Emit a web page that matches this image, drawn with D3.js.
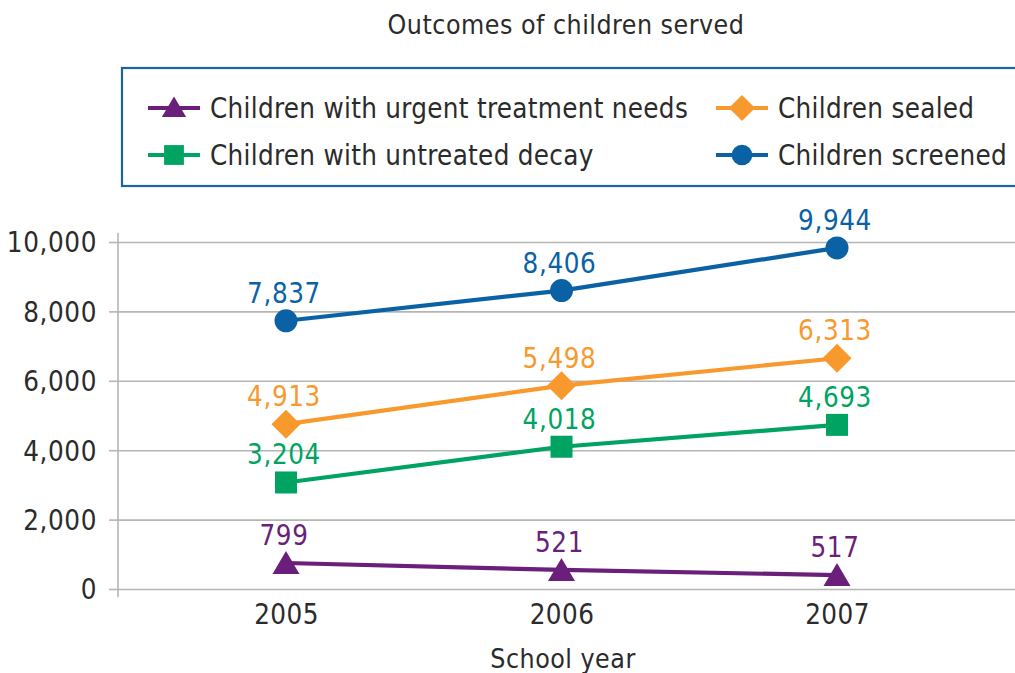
<!DOCTYPE html>
<html>
<head>
<meta charset="utf-8">
<script src="https://cdn.jsdelivr.net/npm/d3@7"></script>
<style>
  html, body { margin: 0; padding: 0; background: #fff; }
  svg { display: block; }
  text { font-family: "Liberation Sans Narrow", "DejaVu Sans Condensed", "Open Sans", sans-serif; fill: #2b2b2b; }
</style>
</head>
<body>
<svg id="chart" width="1015" height="673"></svg>
<script>
// ---- data ----
const years = [2005, 2006, 2007];
const yTicks = [0, 2000, 4000, 6000, 8000, 10000];
const seriesNames = ["Children with urgent treatment needs", "Children sealed", "Children with untreated decay", "Children screened"];
// plotted positions
const urgent   = [750, 550, 400];
const decay    = [3070, 4100, 4730];
const sealed   = [4750, 5860, 6650];
const screened = [7730, 8600, 9830];
// printed value labels
const urgentLabels   = ["799", "521", "517"];
const decayLabels    = ["3,204", "4,018", "4,693"];
const sealedLabels   = ["4,913", "5,498", "6,313"];
const screenedLabels = ["7,837", "8,406", "9,944"];

const title = "Outcomes of children served";
const xTitle = "School year";

// ---- config ----
const W = 1015, H = 673;
const colors = { urgent: "#6a1f7a", decay: "#00a361", sealed: "#f7992d", screened: "#0a62a5" };
const textColor = "#2b2b2b";
const svg = d3.select("#chart");

const x = d3.scalePoint().domain(years).range([286, 837]);
const y = d3.scaleLinear().domain([0, 10000]).range([589, 242]);
const axisX = 118;

// title
svg.append("text").attr("x", 566).attr("y", 34).attr("text-anchor", "middle")
  .style("font-size", "26.5px").style("letter-spacing", "0.5px").text(title);

// legend box
svg.append("rect").attr("x", 122).attr("y", 68).attr("width", 905).attr("height", 118)
  .attr("fill", "none").attr("stroke", "#1a64a0").attr("stroke-width", 2.2);

// gridlines
svg.append("g").attr("transform", `translate(${axisX},0)`)
  .call(d3.axisRight(y).tickValues(yTicks).tickSize(W - axisX).tickFormat(""))
  .call(g => g.select(".domain").remove())
  .call(g => g.selectAll("line").attr("stroke", "#b5b5b5").attr("stroke-width", 1.6));

// y axis
svg.append("g").attr("transform", `translate(${axisX},0)`)
  .call(d3.axisLeft(y).tickValues(yTicks).tickSize(9).tickPadding(12).tickFormat(d3.format(",")))
  .call(g => g.select(".domain").remove())
  .call(g => g.selectAll("line").attr("stroke", "#b5b5b5").attr("stroke-width", 1.6))
  .call(g => g.selectAll("text").style("font-size", "27.5px").style("letter-spacing", "0.6px").attr("fill", textColor).attr("dy", "0.36em"));
svg.append("line").attr("x1", axisX).attr("x2", axisX).attr("y1", 233).attr("y2", 597)
  .attr("stroke", "#b5b5b5").attr("stroke-width", 1.6);

// x axis labels
svg.append("g").attr("transform", `translate(0,589)`)
  .call(d3.axisBottom(x).tickSize(0).tickPadding(35))
  .call(g => g.select(".domain").remove())
  .call(g => g.selectAll("text").style("font-size", "27.5px").style("letter-spacing", "0.4px").attr("fill", textColor).attr("dy", 0));
svg.append("text").attr("x", 563).attr("y", 668).attr("text-anchor", "middle")
  .style("font-size", "26.5px").style("letter-spacing", "0.5px").text(xTitle);

// symbols
function drawSymbol(g, type, cx, cy, color, s) {
  s = s || 1;
  if (type === "circle") g.append("circle").attr("cx", cx).attr("cy", cy).attr("r", 11.5 * s).attr("fill", color);
  else if (type === "square") g.append("rect").attr("x", cx - 11 * s).attr("y", cy - 11 * s).attr("width", 22 * s).attr("height", 22 * s).attr("fill", color);
  else if (type === "diamond") g.append("path").attr("d", `M${cx},${cy - 14.5 * s}L${cx + 14.5 * s},${cy}L${cx},${cy + 14.5 * s}L${cx - 14.5 * s},${cy}Z`).attr("fill", color);
  else if (type === "triangle") g.append("path").attr("d", `M${cx},${cy - 14 * s}L${cx + 13.5 * s},${cy + 9 * s}L${cx - 13.5 * s},${cy + 9 * s}Z`).attr("fill", color);
}

const series = [
  { name: seriesNames[3], vals: screened, labels: screenedLabels, color: colors.screened, sym: "circle" },
  { name: seriesNames[1], vals: sealed, labels: sealedLabels, color: colors.sealed, sym: "diamond" },
  { name: seriesNames[2], vals: decay, labels: decayLabels, color: colors.decay, sym: "square" },
  { name: seriesNames[0], vals: urgent, labels: urgentLabels, color: colors.urgent, sym: "triangle" }
];

const line = d3.line().x((d, i) => x(years[i])).y(d => y(d));
series.forEach(s => {
  const g = svg.append("g");
  g.append("path").attr("d", line(s.vals)).attr("fill", "none").attr("stroke", s.color).attr("stroke-width", 4.2);
  s.vals.forEach((v, i) => {
    const cx = x(years[i]), cy = y(v);
    drawSymbol(g, s.sym, cx, s.sym === "triangle" ? cy + 2 : cy, s.color);
    g.append("text").attr("x", cx - 2).attr("y", cy - 18).attr("text-anchor", "middle")
      .style("font-size", "27.5px").style("letter-spacing", "0.6px").style("fill", s.color).text(s.labels[i]);
  });
});

// legend
const legendItems = [
  { name: seriesNames[0], color: colors.urgent, sym: "triangle", lx: 148, ty: 108 },
  { name: seriesNames[1], color: colors.sealed, sym: "diamond", lx: 716, ty: 108 },
  { name: seriesNames[2], color: colors.decay, sym: "square", lx: 148, ty: 155 },
  { name: seriesNames[3], color: colors.screened, sym: "circle", lx: 716, ty: 155 }
];
legendItems.forEach(it => {
  const g = svg.append("g");
  g.append("line").attr("x1", it.lx).attr("x2", it.lx + 52).attr("y1", it.ty).attr("y2", it.ty)
    .attr("stroke", it.color).attr("stroke-width", 4.2);
  drawSymbol(g, it.sym, it.lx + 26, it.sym === "triangle" ? it.ty + 1 : it.ty, it.color, 0.9);
  g.append("text").attr("x", it.lx + 62).attr("y", it.ty + 10)
    .style("font-size", "27.5px").style("letter-spacing", "0.3px").text(it.name);
});
</script>
</body>
</html>
